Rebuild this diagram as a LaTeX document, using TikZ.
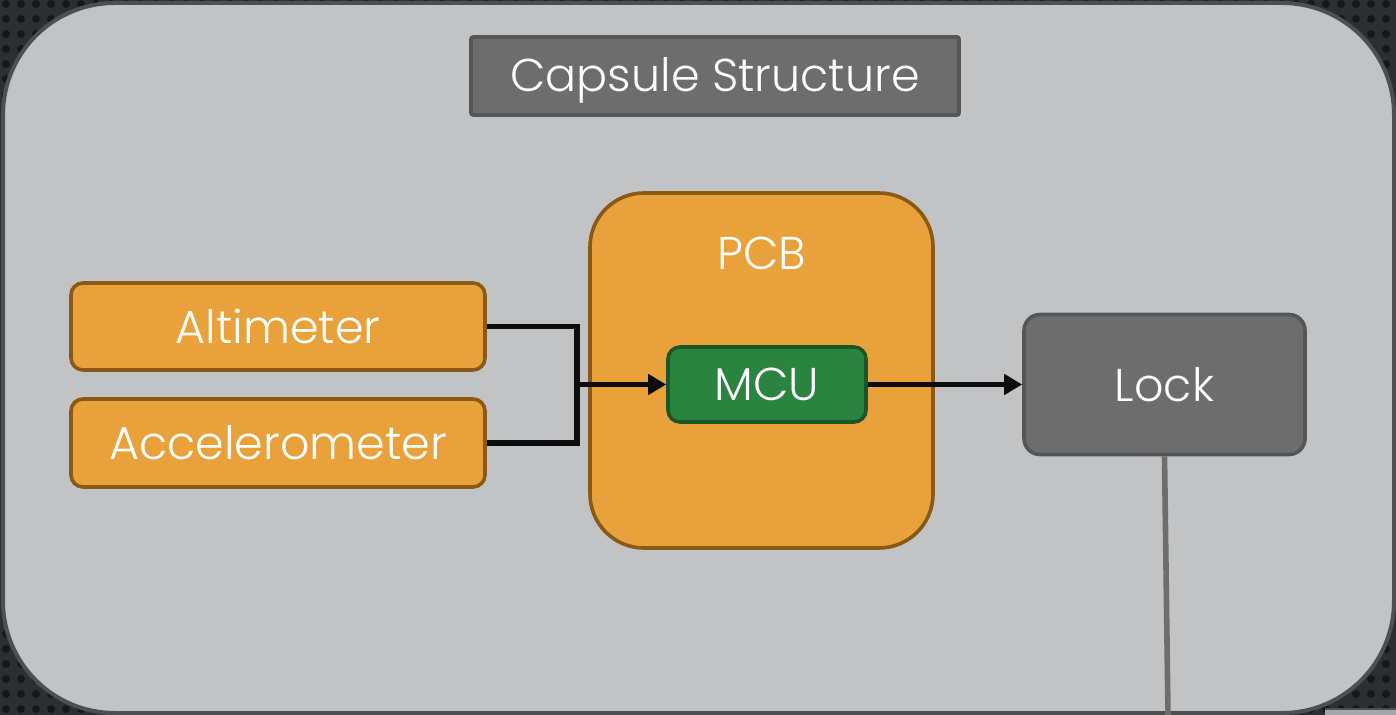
\documentclass[tikz,border=0pt]{standalone}
\usepackage{fontspec}
\setmainfont{Poppins}[UprightFont={* Light}]
\usetikzlibrary{arrows.meta}
\definecolor{bgdark}{HTML}{2C2E32}
\definecolor{bgdot}{HTML}{15171A}
\definecolor{panelfill}{HTML}{C2C3C5}
\definecolor{panelline}{HTML}{4E4F51}
\definecolor{boxgray}{HTML}{6D6D6D}
\definecolor{boxgrayline}{HTML}{555555}
\definecolor{orangefill}{HTML}{E9A23B}
\definecolor{orangeline}{HTML}{8A5A14}
\definecolor{greenfill}{HTML}{2B8340}
\definecolor{greenline}{HTML}{1D5528}
\tikzset{
  block/.style={draw, line width=1.8pt, rounded corners=6pt, font=\fontsize{23}{26}\selectfont, text=white, inner sep=0pt},
  orangebox/.style={block, fill=orangefill, draw=orangeline},
  graybox/.style={block, fill=boxgray, draw=boxgrayline},
  greenbox/.style={block, fill=greenfill, draw=greenline},
  wire/.style={line width=2.8pt, black!95},
  arrowwire/.style={wire, -{Triangle[length=9pt,width=10pt]}},
  drop/.style={line width=2.8pt, boxgray}
}
\begin{document}
\begin{tikzpicture}[x=0.5pt,y=-0.5pt]
  \useasboundingbox (0,0) rectangle (1396,715);
  % dark perforated backdrop
  \fill[bgdark] (0,0) rectangle (1396,715);
  \foreach \i in {0,...,93} {
    \foreach \j in {0,...,48} {
      \fill[bgdot] (\i*15+6,\j*15+4) circle (4);
    }
  }
  % neighbouring panel peeking in at the corner
  \fill[panelfill!85!black] (1325,709) rectangle (1400,720);
  \draw[panelline, line width=1pt] (1325,709) -- (1400,709);
  % main light panel
  \draw[fill=panelfill, draw=panelline, line width=2pt, rounded corners=56pt]
    (3,3) rectangle (1394,713);

  % title
  \node[graybox, rounded corners=1pt, minimum width=244pt, minimum height=39pt] (title) at (715,76) {};
  \node[text=white, font=\fontsize{23}{26}\selectfont] (titletext) at (715,80) {Capsule Structure};

  % boards and sensors
  \node[orangebox, rounded corners=27pt, minimum width=171.5pt, minimum height=177.5pt] (pcb) at (761.5,370.5) {};
  \node[text=white, font=\fontsize{23}{26}\selectfont] (pcblabel) at (762,253) {PCB};
  \node[orangebox, minimum width=207pt, minimum height=43.5pt] (alt) at (278,326.5) {Altimeter};
  \node[orangebox, minimum width=207pt, minimum height=44pt] (acc) at (278,443) {Accelerometer};
  \node[greenbox, minimum width=99pt, minimum height=37.5pt] (mcu) at (767,384.5) {MCU};
  \node[graybox, rounded corners=8pt, minimum width=140.5pt, minimum height=70pt] (lock) at (1164.5,384.5) {Lock};
  \coordinate (join) at (577,384.5);
  \coordinate (floor) at (1168,716);

  % signal paths
  \draw[wire, line join=miter] (alt.east) -| (join) |- (acc.east);
  \draw[arrowwire] (join) -- (mcu.west);
  \draw[arrowwire] (mcu.east) -- (lock.west);
  \draw[drop] (lock.south) -- (floor);
\end{tikzpicture}
\end{document}
